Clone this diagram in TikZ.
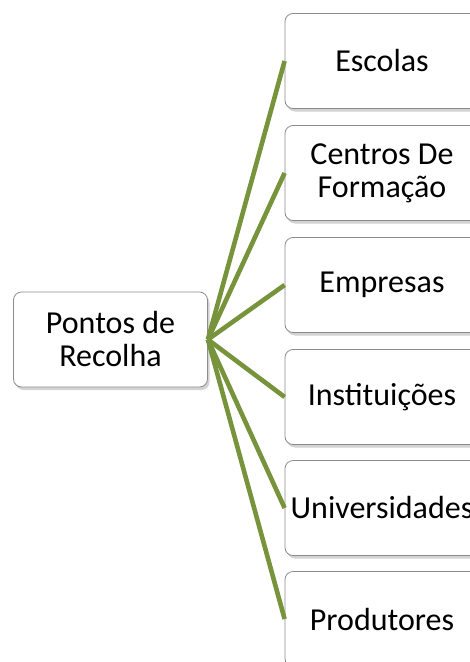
\documentclass[tikz,border=0pt]{standalone}
\usepackage{fontspec}
\setmainfont{Carlito}
\usetikzlibrary{shadows}
\definecolor{ramo}{RGB}{119,147,60}
\definecolor{borda}{RGB}{140,140,140}
\tikzset{
	caixa/.style={draw=borda, line width=0.8pt, fill=white, rounded corners=8pt,
		minimum width=194pt, minimum height=95pt, align=center,
		font=\fontsize{32}{33}\selectfont,
		drop shadow={opacity=0.35, shadow xshift=2pt, shadow yshift=-3pt}},
	ligacao/.style={draw=ramo, line width=4.6pt}
}
\begin{document}
\begin{tikzpicture}[x=1pt,y=1pt]
				\useasboundingbox (0,0) rectangle (470,-662);
				\coordinate (R) at (110.5,-339.5);
				\coordinate (E1) at (382,-61);
				\coordinate (E2) at (382,-173);
				\coordinate (E3) at (382,-285);
				\coordinate (E4) at (382,-397);
				\coordinate (E5) at (382,-508);
				\coordinate (E6) at (382,-619);
				\node [caixa] (recolha) at (R) {Pontos de\\Recolha};
				\node [caixa] (escolas) at (E1) {Escolas};
				\node [caixa] (centros) at (E2) {Centros De\\Formação};
				\node [caixa] (empresas) at (E3) {Empresas};
				\node [caixa] (instituicoes) at (E4) {Instituições};
				\node [caixa] (universidades) at (E5) {Universidades};
				\node [caixa] (produtores) at (E6) {Produtores};
				\draw [ligacao] (recolha.east) -- (escolas.west);
				\draw [ligacao] (recolha.east) -- (centros.west);
				\draw [ligacao] (recolha.east) -- (empresas.west);
				\draw [ligacao] (recolha.east) -- (instituicoes.west);
				\draw [ligacao] (recolha.east) -- (universidades.west);
				\draw [ligacao] (recolha.east) -- (produtores.west);
			\end{tikzpicture}
\end{document}
